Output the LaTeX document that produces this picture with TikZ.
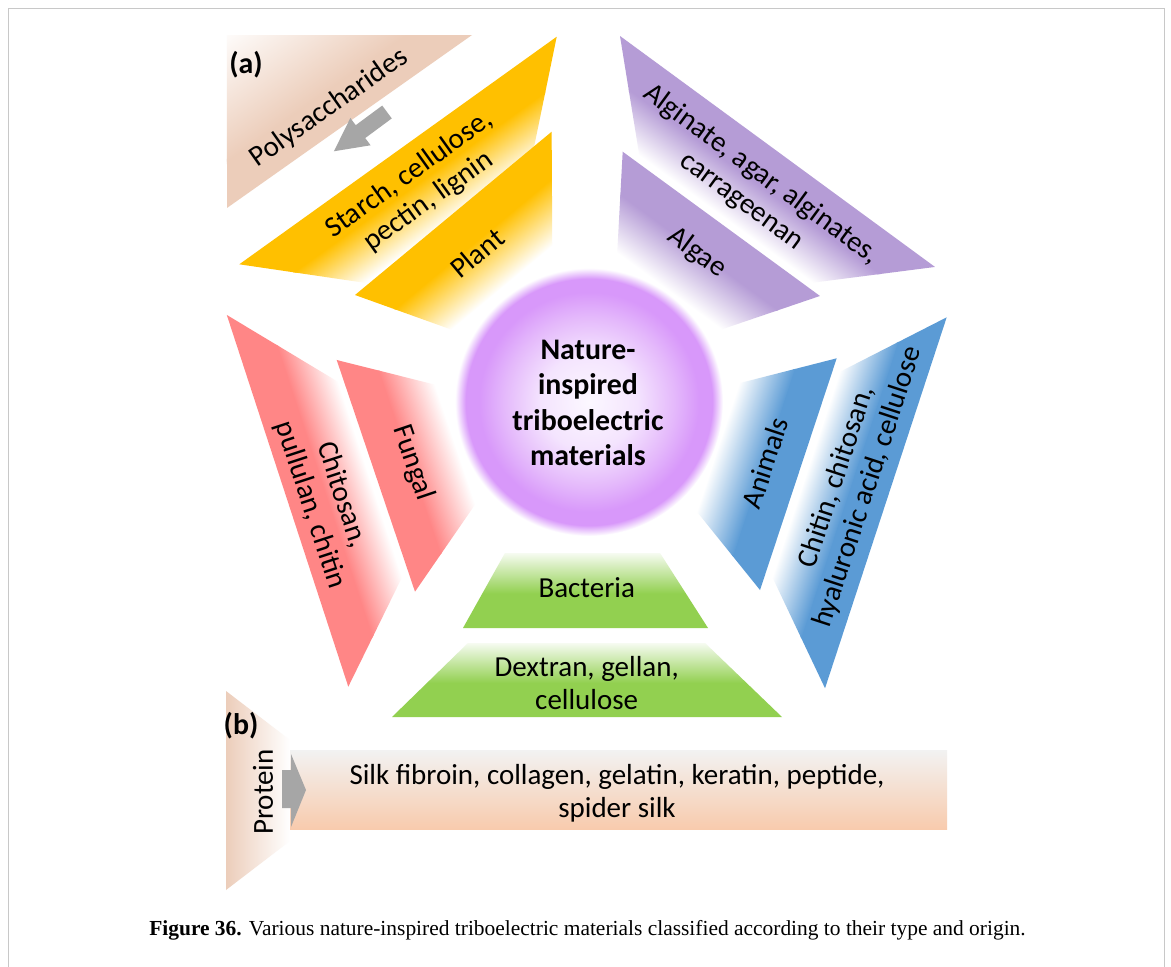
\documentclass[tikz,border=0pt]{standalone}
\usepackage{fontspec}
\setmainfont{Carlito}
\newfontfamily\capfont{Liberation Serif}
\definecolor{goldc}{RGB}{255,192,0}
\definecolor{lavc}{RGB}{181,156,214}
\definecolor{pinkc}{RGB}{255,134,134}
\definecolor{bluc}{RGB}{91,155,213}
\definecolor{grn}{RGB}{146,208,80}
\definecolor{grnpale}{RGB}{246,251,241}
\definecolor{tanc}{RGB}{236,205,186}
\definecolor{peach}{RGB}{248,203,173}
\definecolor{silkgray}{RGB}{242,242,242}
\definecolor{arrowgray}{RGB}{166,166,166}
\definecolor{framegray}{RGB}{200,200,200}
\definecolor{ringa}{RGB}{252,248,255}
\definecolor{ringb}{RGB}{244,228,254}
\definecolor{ringc}{RGB}{228,184,251}
\definecolor{ringd}{RGB}{216,152,250}
\pgfdeclareradialshading{ballfade}{\pgfpoint{0bp}{0bp}}{color(0bp)=(ringa); color(9bp)=(ringb); color(16bp)=(ringc); color(20.5bp)=(ringd); color(23bp)=(ringd); color(25bp)=(white); color(50bp)=(white)}
\pgfdeclareverticalshading{greenfade}{100bp}{color(0bp)=(grn); color(25bp)=(grn); color(48bp)=(grn); color(75bp)=(grnpale); color(100bp)=(grnpale)}
% #1 origin, #2 angle, #3 length, #4 #5 far corner (local), #6 colour, #7 solid until, #8 white from
\newcommand\fadestrip[8]{%
  \begin{scope}[transform canvas={shift={#1},rotate=#2}]
    \clip (0,0) -- (#3,0) -- (#4,#5) -- cycle;
    \fill[#6] (-60,-30) rectangle ({#3+60},#7);
    \shade[top color=#6, bottom color=white] (-60,{#7-2}) rectangle ({#3+60},#8);
  \end{scope}}
\tikzset{
  lbl/.style={font=\fontsize{16.5}{18.8}\selectfont, align=center, inner sep=0pt, text=black},
  corelbl/.style={font=\fontsize{17}{20.2}\selectfont\bfseries, align=center, inner sep=0pt},
  panel/.style={font=\fontsize{17}{20}\selectfont\bfseries, inner sep=0pt},
  blockarrow/.style={fill=arrowgray}
}
\begin{document}
\begin{tikzpicture}[x=0.02cm,y=-0.02cm]
\useasboundingbox (0,0) rectangle (1171,967);
\fill[white] (0,0) rectangle (1171,967);
\draw[framegray, line width=1.1pt] (8.5,967) -- (8.5,8.5) -- (1164.5,8.5) -- (1164.5,967);

% polysaccharides
\fadestrip{(472,35)}{-144.78}{299.9}{200.2}{141.3}{tanc}{40}{150}
% plant
\fadestrip{(239.3,264.3)}{35.64}{390.6}{190.9}{184.5}{goldc}{40}{88}
\fadestrip{(355,295)}{39.70}{255.6}{106.9}{181.1}{goldc}{38}{88}
% algae
\fadestrip{(620,36)}{-36.25}{390.6}{192}{189}{lavc}{40}{85}
\fadestrip{(622.7,151.7)}{-36.18}{244.4}{117.7}{180.7}{lavc}{38}{85}
% fungal
\fadestrip{(348.3,686.7)}{108.1}{391.1}{184.1}{179.3}{pinkc}{40}{85}
\fadestrip{(415,591.7)}{108.67}{244.6}{131.4}{175.9}{pinkc}{38}{85}
% animals
\fadestrip{(946.7,317.3)}{-108.16}{390.4}{190.9}{189.5}{bluc}{40}{85}
\fadestrip{(836.7,358.3)}{-108.31}{244.1}{121.6}{189.8}{bluc}{38}{85}
% bacteria
\shade[shading=greenfade] (505,553) -- (660,553) -- (708,628) -- (463,628) -- cycle;
\shade[shading=greenfade] (468,643) -- (705,643) -- (782,717) -- (392,717) -- cycle;
% centre
\shade[shading=ballfade] (589,402) circle[radius=2.68cm];
% protein
\shade[left color=tanc, right color=white] (226,691) -- (290,740) -- (290,841) -- (226,890) -- cycle;
\shade[top color=silkgray, bottom color=peach] (290,750) rectangle (947,829);
% arrows
\begin{scope}[shift={(387,112)}, rotate=-143.5]
  \fill[blockarrow] (0,-8) -- (33,-8) -- (33,-17) -- (66,0) -- (33,17) -- (33,8) -- (0,8) -- cycle;
\end{scope}
\fill[blockarrow] (282,770) -- (291,770) -- (291,754) -- (306,790) -- (291,827) -- (291,808) -- (282,808) -- cycle;

% texts
\node[panel] (pa) at (246,65) {(a)};
\node[panel] (pb) at (241,726) {(b)};
\node[lbl, rotate=35.2] (poly) at (329,108) {Polysaccharides};
\node[lbl, rotate=35.6] (starch) at (419,188) {Starch, cellulose,\\pectin, lignin};
\node[lbl, rotate=39.7] (plant) at (477,253) {Plant};
\node[lbl, rotate=-36.25] (alg) at (751.5,188) {Alginate, agar, alginates,\\carrageenan};
\node[lbl, rotate=-36.2] (algae) at (697,253) {Algae};
\node[lbl, rotate=-71.9] (chitosan) at (326,500) {Chitosan,\\pullulan, chitin};
\node[lbl, rotate=-71.3] (fungal) at (413,463) {Fungal};
\node[lbl, rotate=71.8] (chitin) at (852.5,482) {Chitin, chitosan,\\hyaluronic acid, cellulose};
\node[lbl, rotate=71.7] (animals) at (765,463) {Animals};
\node[lbl] (bact) at (586.7,588) {Bacteria};
\node[lbl] (dextran) at (586.7,683) {Dextran, gellan,\\cellulose};
\node[corelbl] (core) at (588,403) {Nature-\\inspired\\triboelectric\\materials};
\node[lbl, rotate=90] (protein) at (263,792) {Protein};
\node[lbl] (silk) at (617,793) {Silk fibroin, collagen, gelatin, keratin, peptide,\\spider silk};
\node[font=\capfont\fontsize{12.2}{14}\selectfont, inner sep=0pt] (cap) at (587.5,930) {\textbf{Figure 36.} Various nature-inspired triboelectric materials classified according to their type and origin.};
\end{tikzpicture}
\end{document}
